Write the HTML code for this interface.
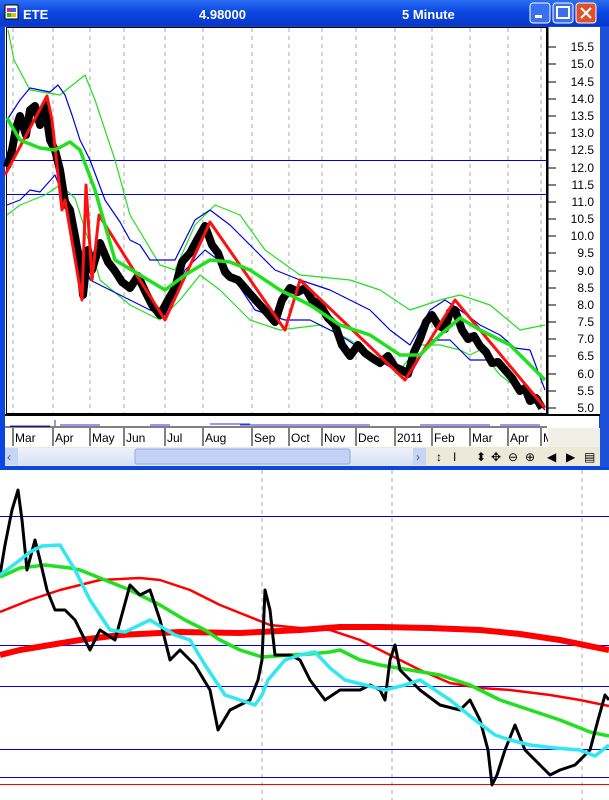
<!DOCTYPE html>
<html><head><meta charset="utf-8"><style>
html,body{margin:0;padding:0;background:#fff;width:609px;height:800px;overflow:hidden;font-family:"Liberation Sans",sans-serif}
</style></head><body>
<svg width="609" height="800" xmlns="http://www.w3.org/2000/svg" style="position:absolute;left:0;top:0">
<defs>
<linearGradient id="tb" x1="0" y1="0" x2="0" y2="1"><stop offset="0" stop-color="#2a6cf2"/><stop offset="0.5" stop-color="#0a46e0"/><stop offset="1" stop-color="#0838c8"/></linearGradient>
<linearGradient id="sb" x1="0" y1="0" x2="0" y2="1"><stop offset="0" stop-color="#eef2fc"/><stop offset="1" stop-color="#d6e0f6"/></linearGradient>
</defs>
<rect x="0" y="0" width="609" height="470" fill="#0a46e0"/>
<rect x="0" y="0" width="609" height="26" fill="url(#tb)"/>
<rect x="5" y="27" width="594" height="439" fill="#fff"/>
<rect x="600" y="27" width="9" height="440" fill="#1c50d8"/>
<rect x="5" y="5" width="13" height="14" fill="#fff" stroke="#000" stroke-width="1"/>
<rect x="7" y="8" width="4" height="4" fill="#e02090"/><rect x="11" y="8" width="5" height="4" fill="#3060ff"/>
<rect x="7" y="13" width="4" height="4" fill="#20c020"/><rect x="11" y="13" width="5" height="4" fill="#e0c000"/>
<text x="23" y="19" font-size="13" font-weight="bold" fill="#fff">ETE</text>
<text x="199" y="19" font-size="13" font-weight="bold" fill="#fff">4.98000</text>
<text x="402" y="19" font-size="13" font-weight="bold" fill="#fff">5 Minute</text>
<rect x="530" y="3" width="20" height="20" rx="3" fill="#3a70f0" stroke="#fff"/>
<rect x="535" y="15" width="7" height="3" fill="#fff"/>
<rect x="553" y="3" width="20" height="20" rx="3" fill="#3a70f0" stroke="#fff"/>
<rect x="557" y="7" width="12" height="11" fill="none" stroke="#fff" stroke-width="2"/>
<rect x="576" y="3" width="20" height="20" rx="3" fill="#e0502a" stroke="#fff"/>
<path d="M581 8 L591 18 M591 8 L581 18" stroke="#fff" stroke-width="2.2"/>
<rect x="6.5" y="27.5" width="540" height="386" fill="none" stroke="#000"/>
<g stroke="#aaa" stroke-dasharray="4,4" stroke-width="1" shape-rendering="crispEdges">
<line x1="13" y1="28" x2="13" y2="413"/><line x1="53" y1="28" x2="53" y2="413"/><line x1="90" y1="28" x2="90" y2="413"/><line x1="124" y1="28" x2="124" y2="413"/><line x1="165" y1="28" x2="165" y2="413"/><line x1="203" y1="28" x2="203" y2="413"/><line x1="252" y1="28" x2="252" y2="413"/><line x1="289" y1="28" x2="289" y2="413"/><line x1="322" y1="28" x2="322" y2="413"/><line x1="356" y1="28" x2="356" y2="413"/><line x1="395" y1="28" x2="395" y2="413"/><line x1="432" y1="28" x2="432" y2="413"/><line x1="470" y1="28" x2="470" y2="413"/><line x1="508" y1="28" x2="508" y2="413"/><line x1="541" y1="28" x2="541" y2="413"/>
</g>
<g stroke="#0000e0" shape-rendering="crispEdges"><line x1="7" y1="160.5" x2="547" y2="160.5"/><line x1="7" y1="194.5" x2="547" y2="194.5"/></g>
<g fill="none" stroke-linejoin="round">
<polyline stroke="#20e020" stroke-width="1.2" points="8,30 14,60 30,90 60,95 85,75 95,100 115,160 130,215 160,265 175,270 195,225 215,205 240,215 265,250 300,275 350,280 380,290 410,310 440,300 460,295 490,305 520,330 545,325"/>
<polyline stroke="#20e020" stroke-width="1.2" points="7,215 20,205 45,195 60,185 75,198 90,245 100,280 130,305 160,320 180,300 200,275 220,290 250,320 280,330 320,325 350,340 380,360 400,370 420,345 440,345 460,350 470,355 480,350 500,375 520,390 545,408"/>
<polyline stroke="#0000e0" stroke-width="1.2" points="7,120 20,100 30,88 40,90 50,92 58,85 65,95 72,115 80,140 90,160 105,200 120,222 130,240 140,245 150,260 175,260 195,220 210,210 230,225 255,250 275,270 300,280 330,290 370,310 390,330 410,345 430,310 445,300 460,310 480,325 500,335 515,348 530,350 545,390"/>
<polyline stroke="#0000e0" stroke-width="1.2" points="7,205 20,200 30,190 40,192 55,175 65,200 75,230 90,280 120,295 150,310 165,315 185,270 205,250 225,265 255,310 285,320 310,320 340,335 370,355 395,370 410,375 430,340 450,340 470,360 490,360 510,375 530,395 545,410"/>
<polyline stroke="#000" stroke-width="8" points="7,167 12,150 16,128 20,116 26,135 30,110 35,106 40,125 45,105 50,140 55,150 60,170 65,202 70,210 75,236 80,265 83,295 88,250 92,270 100,243 108,262 115,271 122,282 130,288 138,276 145,291 152,305 160,315 168,300 175,288 182,262 190,253 197,240 205,226 212,245 218,253 225,272 230,277 238,280 245,288 252,296 260,305 268,314 275,322 282,300 290,288 298,292 305,288 312,300 320,305 328,318 335,325 342,345 350,356 358,345 365,353 372,358 380,363 388,356 395,367 402,370 408,374 414,352 420,339 426,322 432,315 438,325 445,329 450,312 455,310 462,330 468,339 474,336 480,346 486,352 492,363 498,362 505,370 512,378 520,391 525,388 530,401 536,398 542,408"/>
<polyline stroke="#ff1010" stroke-width="3" points="5,175 47,96 52,120 62,210 65,200 82,300 86,185 92,280 99,215 165,320 210,222 285,330 300,280 405,380 455,300 545,408"/>
<polyline stroke="#20e020" stroke-width="3.5" points="7,118 20,140 40,148 55,150 70,142 80,150 95,190 115,260 140,275 165,290 185,275 210,260 230,262 250,270 280,290 310,305 340,325 370,335 400,355 420,355 440,335 460,318 480,330 510,345 545,380"/>
</g>
<rect x="547" y="27" width="53" height="388" fill="#fff"/>
<line x1="547.5" y1="27" x2="547.5" y2="414" stroke="#000" stroke-width="2"/>
<g font-size="12" fill="#000" text-anchor="end">
<text x="594" y="51">15.5</text><text x="594" y="68">15.0</text><text x="594" y="86">14.5</text><text x="594" y="103">14.0</text><text x="594" y="120">13.5</text><text x="594" y="137">13.0</text><text x="594" y="154">12.5</text><text x="594" y="172">12.0</text><text x="594" y="189">11.5</text><text x="594" y="206">11.0</text><text x="594" y="223">10.5</text><text x="594" y="240">10.0</text><text x="594" y="257">9.5</text><text x="594" y="275">9.0</text><text x="594" y="292">8.5</text><text x="594" y="309">8.0</text><text x="594" y="326">7.5</text><text x="594" y="343">7.0</text><text x="594" y="360">6.5</text><text x="594" y="378">6.0</text><text x="594" y="395">5.5</text><text x="594" y="412">5.0</text>
</g>
<g stroke="#000" stroke-width="1">
<path d="M548 47h8M548 64h8M548 82h8M548 99h8M548 116h8M548 133h8M548 150h8M548 168h8M548 185h8M548 202h8M548 219h8M548 236h8M548 253h8M548 271h8M548 288h8M548 305h8M548 322h8M548 339h8M548 356h8M548 374h8M548 391h8M548 408h8"/>
</g>
<line x1="5" y1="415" x2="600" y2="415" stroke="#000" stroke-width="2"/>
<line x1="5" y1="427" x2="547" y2="427" stroke="#000"/>
<path d="M10 426h40M55 420v6M60 425h40M150 425h20M210 424h40M240 425h60M280 425h40M320 425h50M420 425h40M450 425h40M500 425h40" stroke="#3030e0" stroke-width="1"/>
<rect x="5" y="428" width="543" height="19" fill="#fff"/>
<g stroke="#000"><path d="M13 428v18M53 428v18M90 428v18M124 428v18M165 428v18M203 428v18M252 428v18M289 428v18M322 428v18M356 428v18M395 428v18M432 428v18M470 428v18M508 428v18M541 428v18"/></g>
<g font-size="12" fill="#000">
<text x="15" y="442">Mar</text><text x="55" y="442">Apr</text><text x="92" y="442">May</text><text x="126" y="442">Jun</text><text x="167" y="442">Jul</text><text x="205" y="442">Aug</text><text x="254" y="442">Sep</text><text x="291" y="442">Oct</text><text x="324" y="442">Nov</text><text x="358" y="442">Dec</text><text x="397" y="442">2011</text><text x="434" y="442">Feb</text><text x="472" y="442">Mar</text><text x="510" y="442">Apr</text><text x="543" y="442">M</text>
</g>
<rect x="548" y="428" width="52" height="19" fill="#f0f0e8"/>
<rect x="5" y="447" width="595" height="19" fill="#ece9d8"/>
<rect x="5" y="448" width="420" height="17" fill="url(#sb)"/>
<rect x="5" y="448" width="13" height="17" fill="#c6d4f6"/><text x="7" y="461" font-size="12" fill="#4060a0">‹</text>
<rect x="135" y="449" width="215" height="15" rx="2" fill="#c4d2f6" stroke="#90a8e0"/>
<rect x="413" y="448" width="13" height="17" fill="#c6d4f6"/><text x="416" y="461" font-size="12" fill="#4060a0">›</text>
<g font-size="12" fill="#000"><text x="436" y="461">↕</text><text x="453" y="461">I</text><text x="476" y="461">⬍</text><text x="491" y="461">✥</text><text x="508" y="461">⊖</text><text x="525" y="461">⊕</text><text x="547" y="461">◀</text><text x="566" y="461">▶</text><text x="584" y="461">▤</text></g>
<g stroke="#aaa" stroke-dasharray="4,4" shape-rendering="crispEdges"><line x1="262" y1="470" x2="262" y2="800"/><line x1="392" y1="470" x2="392" y2="800"/><line x1="582" y1="470" x2="582" y2="800"/></g>
<g stroke="#0000e0" shape-rendering="crispEdges"><line x1="0" y1="516.5" x2="609" y2="516.5"/><line x1="0" y1="645.5" x2="609" y2="645.5"/><line x1="0" y1="686.5" x2="609" y2="686.5"/><line x1="0" y1="749.5" x2="609" y2="749.5"/><line x1="0" y1="777.5" x2="609" y2="777.5"/></g>
<line x1="0" y1="784.5" x2="609" y2="784.5" stroke="#ff0000" shape-rendering="crispEdges"/>
<g fill="none" stroke-linejoin="round">
<polyline stroke="#ff0000" stroke-width="6" points="0,655 20,650 50,645 80,640 120,635 180,632 240,633 300,630 340,627 380,627 430,628 480,630 520,634 560,640 609,650"/>
<polyline stroke="#ff0000" stroke-width="2.5" points="0,612 30,600 60,590 100,580 140,578 160,580 190,590 220,605 245,615 270,625 300,628 330,630 360,640 390,655 420,670 450,683 480,688 510,690 550,695 580,700 609,706"/>
<polyline stroke="#20e020" stroke-width="3.5" points="0,577 20,568 45,565 70,568 80,570 105,580 130,590 160,605 185,620 205,630 220,640 240,650 262,657 290,655 310,654 330,652 340,650 360,660 380,665 410,670 440,675 470,685 500,700 530,710 560,720 590,732 609,736"/>
<polyline stroke="#000" stroke-width="3" points="0,575 5,545 12,510 18,490 22,520 27,570 35,540 40,560 47,590 55,610 65,610 75,620 90,650 100,630 115,640 130,585 140,595 150,590 160,620 170,660 180,650 195,665 210,690 218,730 230,710 250,700 258,680 262,660 265,590 270,610 275,655 290,655 300,660 310,680 325,700 340,690 360,690 370,685 380,690 385,700 390,660 395,645 400,670 410,680 420,690 440,705 460,710 470,700 480,720 488,750 492,785 497,775 505,750 515,725 525,750 540,765 550,775 560,770 575,765 590,750 598,720 605,695 609,700"/>
<polyline stroke="#30e8f0" stroke-width="3.5" points="0,575 20,560 30,552 42,546 60,545 75,570 90,600 110,630 125,632 150,620 175,635 190,640 205,665 225,695 240,700 255,705 262,695 268,680 285,660 300,655 315,652 330,668 345,680 365,685 385,690 405,685 420,680 435,690 450,700 475,720 495,735 510,740 530,745 555,748 580,750 595,756 609,745"/>
</g>
</svg>
</body></html>
